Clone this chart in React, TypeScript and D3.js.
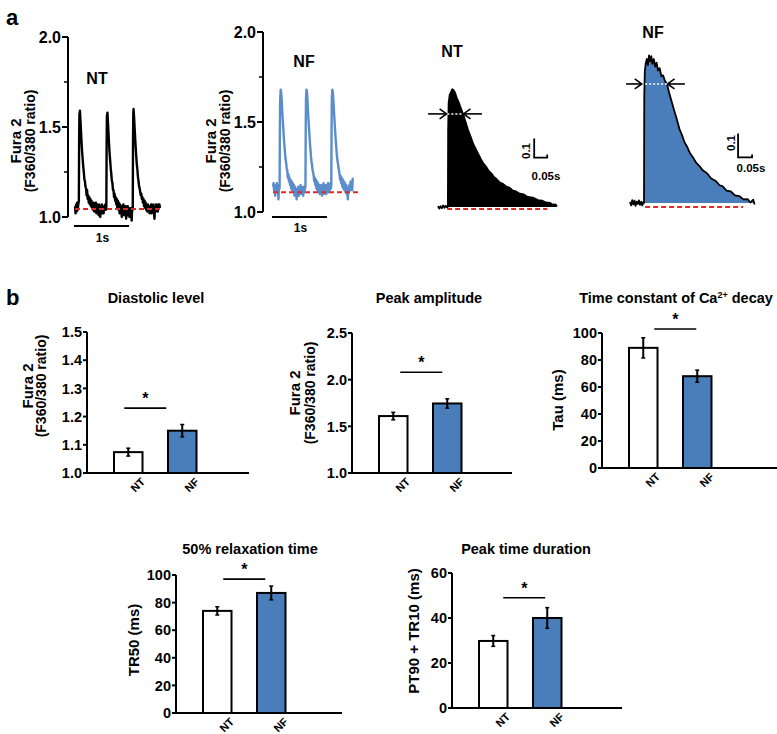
import React from "react";
import * as d3 from "d3";

const FONT = "'Liberation Sans', Arial, Helvetica, sans-serif";
const BAR_BLUE = "#4a7ebb";
const TRACE_BLUE = "#5b8dcd";
const RED = "#e02a2a";

// ---------- panel a: paced transients (time s, Fura 2 ratio) ----------
const ntTrace: [number, number][] = [
  [0.0, 1.06], [0.01, 1.02], [0.02, 1.07], [0.03, 1.03], [0.04, 1.08], [0.05, 1.04], [0.06, 1.07], [0.07, 1.09],
  [0.075, 1.42], [0.08, 1.57], [0.09, 1.59], [0.1, 1.53], [0.11, 1.47], [0.12, 1.41], [0.13, 1.36], [0.14, 1.32],
  [0.15, 1.28], [0.16, 1.25], [0.17, 1.21], [0.18, 1.2], [0.19, 1.17], [0.2, 1.16], [0.21, 1.12], [0.22, 1.15],
  [0.23, 1.1], [0.24, 1.12], [0.25, 1.08], [0.26, 1.11], [0.27, 1.07], [0.28, 1.1], [0.29, 1.06], [0.3, 1.09],
  [0.31, 1.05], [0.32, 1.08], [0.33, 1.04], [0.34, 1.08], [0.35, 1.03], [0.36, 1.07], [0.37, 1.05], [0.38, 1.08],
  [0.39, 1.02], [0.4, 1.07], [0.41, 1.04], [0.42, 1.06], [0.43, 1.01], [0.44, 1.07], [0.45, 1.05], [0.46, 1.0],
  [0.47, 1.06], [0.48, 1.04], [0.49, 1.07], [0.5, 1.02], [0.51, 1.06], [0.52, 1.02], [0.53, 1.06], [0.54, 1.04],
  [0.55, 1.07], [0.56, 1.04], [0.57, 1.06],
  [0.575, 1.4], [0.58, 1.56], [0.59, 1.58], [0.6, 1.52], [0.61, 1.46], [0.62, 1.4], [0.63, 1.35], [0.64, 1.31],
  [0.65, 1.27], [0.66, 1.24], [0.67, 1.2], [0.68, 1.19], [0.69, 1.15], [0.7, 1.15], [0.71, 1.11], [0.72, 1.13],
  [0.73, 1.09], [0.74, 1.11], [0.75, 1.07], [0.76, 1.1], [0.77, 1.05], [0.78, 1.09], [0.79, 1.04], [0.8, 1.08],
  [0.81, 1.02], [0.82, 1.07], [0.83, 1.04], [0.84, 1.06], [0.85, 1.0], [0.86, 1.06], [0.87, 1.03], [0.88, 1.07],
  [0.89, 1.01], [0.9, 1.05], [0.91, 1.03], [0.92, 1.06], [0.93, 0.99], [0.94, 1.05], [0.95, 1.03], [0.96, 1.06],
  [0.97, 1.01], [0.98, 1.05], [0.99, 1.0], [1.0, 1.04], [1.01, 1.02], [1.02, 1.05], [1.03, 0.98], [1.04, 1.05],
  [1.05, 1.04],
  [1.055, 1.42], [1.06, 1.58], [1.065, 1.6], [1.075, 1.55], [1.085, 1.49], [1.095, 1.43], [1.105, 1.38], [1.115, 1.33],
  [1.125, 1.29], [1.135, 1.26], [1.145, 1.22], [1.155, 1.2], [1.165, 1.17], [1.175, 1.16], [1.185, 1.14], [1.195, 1.12],
  [1.205, 1.13], [1.215, 1.1], [1.225, 1.11], [1.235, 1.08], [1.245, 1.1], [1.255, 1.06], [1.265, 1.09], [1.275, 1.05],
  [1.285, 1.08], [1.295, 1.04], [1.305, 1.07], [1.315, 1.03], [1.325, 1.07], [1.335, 1.04], [1.345, 1.06], [1.355, 1.02],
  [1.365, 1.06], [1.375, 1.03], [1.385, 1.07], [1.395, 1.02], [1.405, 1.06], [1.415, 1.04], [1.425, 1.07], [1.435, 1.03],
  [1.445, 0.99], [1.455, 1.05], [1.465, 1.03], [1.475, 1.07], [1.485, 1.04], [1.495, 1.06], [1.505, 1.03], [1.515, 1.07],
  [1.525, 1.05], [1.535, 1.07], [1.545, 1.05],
];

const nfTrace: [number, number][] = [
  [0.0, 1.14], [0.01, 1.16], [0.02, 1.12], [0.03, 1.15], [0.04, 1.09], [0.05, 1.14], [0.06, 1.12], [0.07, 1.16],
  [0.08, 1.11], [0.09, 1.14], [0.1, 1.07], [0.11, 1.15], [0.12, 1.13],
  [0.125, 1.45], [0.13, 1.62], [0.14, 1.68], [0.15, 1.66], [0.16, 1.61], [0.17, 1.55], [0.18, 1.5], [0.19, 1.45],
  [0.2, 1.4], [0.21, 1.36], [0.22, 1.32], [0.23, 1.29], [0.24, 1.27], [0.25, 1.24], [0.26, 1.23], [0.27, 1.19],
  [0.28, 1.21], [0.29, 1.17], [0.3, 1.19], [0.31, 1.15], [0.32, 1.18], [0.33, 1.13], [0.34, 1.17], [0.35, 1.12],
  [0.36, 1.16], [0.37, 1.11], [0.38, 1.15], [0.39, 1.09], [0.4, 1.14], [0.41, 1.1], [0.42, 1.13], [0.43, 1.07],
  [0.44, 1.13], [0.45, 1.1], [0.46, 1.14], [0.47, 1.09], [0.48, 1.13], [0.49, 1.11], [0.5, 1.15], [0.51, 1.1],
  [0.52, 1.14], [0.53, 1.11], [0.54, 1.13], [0.55, 1.09], [0.56, 1.14], [0.57, 1.11], [0.58, 1.13], [0.59, 1.14],
  [0.595, 1.46], [0.6, 1.63], [0.61, 1.68], [0.62, 1.66], [0.63, 1.6], [0.64, 1.54], [0.65, 1.49], [0.66, 1.44],
  [0.67, 1.39], [0.68, 1.35], [0.69, 1.31], [0.7, 1.28], [0.71, 1.26], [0.72, 1.23], [0.73, 1.22], [0.74, 1.2],
  [0.75, 1.17], [0.76, 1.19], [0.77, 1.15], [0.78, 1.18], [0.79, 1.13], [0.8, 1.17], [0.81, 1.12], [0.82, 1.16],
  [0.83, 1.11], [0.84, 1.15], [0.85, 1.1], [0.86, 1.14], [0.87, 1.11], [0.88, 1.15], [0.89, 1.09], [0.9, 1.14],
  [0.91, 1.11], [0.92, 1.16], [0.93, 1.1], [0.94, 1.15], [0.95, 1.11], [0.96, 1.14], [0.97, 1.1], [0.98, 1.15],
  [0.99, 1.12], [1.0, 1.16], [1.01, 1.11], [1.02, 1.15], [1.03, 1.12], [1.04, 1.16], [1.05, 1.13], [1.06, 1.15],
  [1.065, 1.47], [1.07, 1.64], [1.08, 1.68], [1.09, 1.66], [1.1, 1.61], [1.11, 1.55], [1.12, 1.5], [1.13, 1.45],
  [1.14, 1.4], [1.15, 1.36], [1.16, 1.32], [1.17, 1.29], [1.18, 1.27], [1.19, 1.25], [1.2, 1.23], [1.21, 1.21],
  [1.22, 1.18], [1.23, 1.2], [1.24, 1.16], [1.25, 1.19], [1.26, 1.14], [1.27, 1.18], [1.28, 1.13], [1.29, 1.17],
  [1.3, 1.12], [1.31, 1.16], [1.32, 1.11], [1.33, 1.15], [1.34, 1.1], [1.35, 1.14], [1.36, 1.07], [1.37, 1.13],
  [1.38, 1.11], [1.39, 1.15], [1.4, 1.12], [1.41, 1.17], [1.42, 1.13], [1.43, 1.16], [1.44, 1.12], [1.45, 1.19],
];

const ntBaseline = 1.044;
const nfBaseline = 1.11;
const traceTicks = [1.0, 1.5, 2.0];
const traceMinorTicks = [1.25, 1.75];

// single averaged transients (time s, delta ratio)
const ntTransient: [number, number][] = [
  [0.0, 0.005], [0.005, -0.008], [0.01, 0.004], [0.015, -0.006], [0.02, 0.008], [0.025, -0.004], [0.03, 0.006],
  [0.035, -0.003], [0.038, 0.002], [0.039, 0.4], [0.041, 0.55], [0.045, 0.59], [0.05, 0.605], [0.055, 0.62],
  [0.06, 0.615], [0.066, 0.6], [0.072, 0.575], [0.08, 0.55], [0.088, 0.52], [0.096, 0.49], [0.105, 0.452],
  [0.115, 0.408], [0.125, 0.372], [0.135, 0.333], [0.145, 0.306], [0.155, 0.278], [0.165, 0.252], [0.175, 0.228],
  [0.185, 0.212], [0.195, 0.19], [0.205, 0.177], [0.215, 0.158], [0.225, 0.147], [0.238, 0.128], [0.25, 0.122],
  [0.262, 0.108], [0.275, 0.102], [0.288, 0.086], [0.3, 0.082], [0.315, 0.07], [0.33, 0.066], [0.345, 0.053],
  [0.366, 0.049], [0.385, 0.036], [0.4, 0.034], [0.415, 0.024], [0.43, 0.022], [0.44, 0.013], [0.45, 0.014],
  [0.458, 0.006],
];

const nfTransient: [number, number][] = [
  [0.0, 0.004], [0.004, -0.01], [0.008, 0.012], [0.012, -0.006], [0.016, 0.01], [0.02, -0.012], [0.024, 0.006],
  [0.028, -0.004], [0.032, 0.011], [0.036, -0.008], [0.04, 0.005], [0.044, -0.01], [0.048, 0.004], [0.05, 0.0],
  [0.051, 0.45], [0.053, 0.55], [0.056, 0.58], [0.06, 0.6], [0.064, 0.575], [0.068, 0.615], [0.072, 0.59],
  [0.076, 0.612], [0.08, 0.58], [0.085, 0.6], [0.09, 0.568], [0.095, 0.585], [0.1, 0.552], [0.106, 0.562],
  [0.112, 0.528], [0.118, 0.532], [0.125, 0.508], [0.132, 0.496], [0.14, 0.458], [0.15, 0.418], [0.158, 0.384],
  [0.167, 0.35], [0.176, 0.31], [0.185, 0.285], [0.195, 0.252], [0.205, 0.232], [0.214, 0.208], [0.225, 0.19],
  [0.236, 0.168], [0.248, 0.154], [0.26, 0.136], [0.275, 0.124], [0.29, 0.102], [0.305, 0.093], [0.32, 0.074],
  [0.33, 0.07], [0.345, 0.052], [0.36, 0.048], [0.375, 0.032], [0.39, 0.029], [0.405, 0.015], [0.42, 0.016],
  [0.43, 0.002], [0.44, 0.014], [0.445, -0.006],
];

// ---------- panel b: group means ± SEM ----------
const groups = ["NT", "NF"];
const diastolicMean = [1.074, 1.15];
const diastolicErr = [0.014, 0.022];
const peakMean = [1.61, 1.745];
const peakErr = [0.04, 0.05];
const tauMean = [89, 68];
const tauErr = [7.5, 4.5];
const tr50Mean = [74, 87];
const tr50Err = [3, 5];
const durationMean = [29.8, 40];
const durationErr = [2.4, 4.6];

const ratioTicks = [1.0, 1.1, 1.2, 1.3, 1.4, 1.5];
const peakTicks = [1.0, 1.5, 2.0, 2.5];
const msTicks = [0, 20, 40, 60, 80, 100];
const durationTicks = [0, 20, 40, 60];

const bold = { fontFamily: FONT, fontWeight: 700 } as const;

type TraceProps = {
  axisX: number; yTop: number; yBottom: number; x0: number;
  data: [number, number][]; baseline: number; color: string;
  label: string; labelX: number; labelY: number;
  barY: number; barTextY: number;
};

function TracePanel(p: TraceProps) {
  const x = d3.scaleLinear().domain([0, 1.6]).range([p.x0, p.x0 + 88]);
  const y = d3.scaleLinear().domain([1, 2]).range([p.yBottom, p.yTop]);
  const line = d3.line<[number, number]>().x((d) => x(d[0])).y((d) => y(d[1]));
  const midY = 141;
  return (
    <g>
      <line x1={p.axisX} x2={p.axisX} y1={y(2)} y2={y(1)} stroke="#000" strokeWidth={2} />
      {traceTicks.map((t) => (
        <g key={t}>
          <line x1={p.axisX - 6} x2={p.axisX} y1={y(t)} y2={y(t)} stroke="#000" strokeWidth={2} />
          <text x={p.axisX - 7} y={y(t)} dy="0.36em" textAnchor="end" fontSize={16} {...bold}>{d3.format(".1f")(t)}</text>
        </g>
      ))}
      {traceMinorTicks.map((t) => (
        <line key={t} x1={p.axisX - 4} x2={p.axisX} y1={y(t)} y2={y(t)} stroke="#000" strokeWidth={1.5} />
      ))}
      <text transform={`translate(${p.axisX - 52},${midY}) rotate(-90)`} textAnchor="middle" dy="0.35em" fontSize={15} {...bold}>Fura 2</text>
      <text transform={`translate(${p.axisX - 38},${midY}) rotate(-90)`} textAnchor="middle" dy="0.35em" fontSize={14} {...bold}>(F360/380 ratio)</text>
      <path d={line(p.data) || ""} fill="none" stroke={p.color} strokeWidth={2.4} strokeLinejoin="round" />
      <line x1={x(0)} x2={x(1.6)} y1={y(p.baseline)} y2={y(p.baseline)} stroke={RED} strokeWidth={2} strokeDasharray="5,3" />
      <text x={p.labelX} y={p.labelY} textAnchor="middle" fontSize={16} {...bold}>{p.label}</text>
      <line x1={x(0) - 1} x2={x(1) - 1} y1={p.barY} y2={p.barY} stroke="#000" strokeWidth={2} />
      <text x={(x(0) + x(1)) / 2} y={p.barTextY} textAnchor="middle" fontSize={12} {...bold}>1s</text>
    </g>
  );
}

type TransientProps = {
  x0: number; pxPerS: number; base: number; pxPerUnit: number;
  data: [number, number][]; fill: string;
  label: string; labelX: number; labelY: number;
  arrowY: number; leftArrow: [number, number]; rightArrow: [number, number]; dots: [number, number];
  redFrom: number; redTo: number; redY: number;
  scaleT: number; scaleV: number;
  t01: [number, number]; t005: [number, number];
};

function Arrow({ x1, x2, y }: { x1: number; x2: number; y: number }) {
  const dir = x2 > x1 ? 1 : -1;
  return (
    <g stroke="#000" strokeWidth={1.6} fill="none">
      <line x1={x1} x2={x2} y1={y} y2={y} />
      <polyline points={`${x2 - dir * 7},${y - 5} ${x2},${y} ${x2 - dir * 7},${y + 5}`} />
    </g>
  );
}

function TransientPanel(p: TransientProps) {
  const x = d3.scaleLinear().domain([0, 1]).range([p.x0, p.x0 + p.pxPerS]);
  const y = d3.scaleLinear().domain([0, 1]).range([p.base, p.base - p.pxPerUnit]);
  const area = d3.area<[number, number]>().x((d) => x(d[0])).y0(y(0)).y1((d) => y(Math.max(0, d[1])));
  const line = d3.line<[number, number]>().x((d) => x(d[0])).y((d) => y(d[1]));
  const ay = y(p.arrowY);
  return (
    <g>
      <path d={area(p.data) || ""} fill={p.fill} />
      <path d={line(p.data) || ""} fill="none" stroke="#000" strokeWidth={1.8} strokeLinejoin="round" />
      <line x1={x(p.redFrom)} x2={x(p.redTo)} y1={y(p.redY)} y2={y(p.redY)} stroke={RED} strokeWidth={2} strokeDasharray="5,3" />
      <Arrow x1={x(p.leftArrow[0])} x2={x(p.leftArrow[1])} y={ay} />
      <Arrow x1={x(p.rightArrow[0])} x2={x(p.rightArrow[1])} y={ay} />
      <line x1={x(p.dots[0])} x2={x(p.dots[1])} y1={ay} y2={ay} stroke="#fff" strokeWidth={1.5} strokeDasharray="2,2" />
      <text x={p.labelX} y={p.labelY} textAnchor="middle" fontSize={16} {...bold}>{p.label}</text>
      <polyline
        points={`${x(p.scaleT)},${y(p.scaleV + 0.1)} ${x(p.scaleT)},${y(p.scaleV)} ${x(p.scaleT + 0.05)},${y(p.scaleV)} ${x(p.scaleT + 0.05)},${y(p.scaleV) - 3}`}
        fill="none" stroke="#000" strokeWidth={1.8}
      />
      <text transform={`translate(${p.t01[0]},${p.t01[1]}) rotate(-90)`} textAnchor="middle" dy="0.35em" fontSize={11.5} {...bold}>0.1</text>
      <text x={p.t005[0]} y={p.t005[1]} textAnchor="middle" fontSize={11.5} {...bold}>0.05s</text>
    </g>
  );
}

type BarProps = {
  title: React.ReactNode; titleX: number; titleY: number;
  yLabels: string[]; yLabelX: number[]; yLabelCy: number;
  axisX: number; axisEnd: number; yTop: number; yBottom: number;
  domain: [number, number]; ticks: number[]; fmt: string;
  means: number[]; errs: number[]; sigValue: number; sigDx: number;
};

function BarPanel(p: BarProps) {
  const y = d3.scaleLinear().domain(p.domain).range([p.yBottom, p.yTop]);
  const x = d3.scaleBand().domain(groups).range([p.axisX + 27, p.axisX + 109.5]).paddingInner(0.472);
  const bw = x.bandwidth();
  const cx = (g: string) => (x(g) || 0) + bw / 2;
  const sigMid = (cx("NT") + cx("NF")) / 2 + p.sigDx;
  const sy = y(p.sigValue);
  return (
    <g>
      <text x={p.titleX} y={p.titleY} textAnchor="middle" fontSize={14.5} {...bold}>{p.title}</text>
      {p.yLabels.map((l, i) => (
        <text key={l} transform={`translate(${p.yLabelX[i]},${p.yLabelCy}) rotate(-90)`} textAnchor="middle" dy="0.35em"
          fontSize={p.yLabels.length > 1 && i === 1 ? 14 : 15} {...bold}>{l}</text>
      ))}
      {groups.map((g, i) => (
        <g key={g}>
          <rect x={x(g)} y={y(p.means[i])} width={bw} height={y(p.domain[0]) - y(p.means[i])}
            fill={g === "NT" ? "#fff" : BAR_BLUE} stroke="#000" strokeWidth={2} />
          <line x1={cx(g)} x2={cx(g)} y1={y(p.means[i] + p.errs[i])} y2={y(p.means[i] - p.errs[i])} stroke="#000" strokeWidth={2} />
          <line x1={cx(g) - 2} x2={cx(g) + 2} y1={y(p.means[i] + p.errs[i])} y2={y(p.means[i] + p.errs[i])} stroke="#000" strokeWidth={1.5} />
          <line x1={cx(g) - 2} x2={cx(g) + 2} y1={y(p.means[i] - p.errs[i])} y2={y(p.means[i] - p.errs[i])} stroke="#000" strokeWidth={1.5} />
          <text transform={`translate(${cx(g) + 12},${p.yBottom + 4}) rotate(-45)`} textAnchor="end" dy="0.7em" fontSize={11} {...bold}>{g}</text>
        </g>
      ))}
      <line x1={p.axisX} x2={p.axisX} y1={p.yTop} y2={p.yBottom} stroke="#000" strokeWidth={2} />
      <line x1={p.axisX - 1} x2={p.axisEnd} y1={p.yBottom} y2={p.yBottom} stroke="#000" strokeWidth={2} />
      {p.ticks.map((t) => (
        <g key={t}>
          <line x1={p.axisX - 4} x2={p.axisX} y1={y(t)} y2={y(t)} stroke="#000" strokeWidth={2} />
          <text x={p.axisX - 5} y={y(t)} dy="0.36em" textAnchor="end" fontSize={14.5} {...bold}>{d3.format(p.fmt)(t)}</text>
        </g>
      ))}
      <line x1={sigMid - 21} x2={sigMid + 21} y1={sy} y2={sy} stroke="#000" strokeWidth={1.6} />
      <text x={sigMid} y={sy - 4} textAnchor="middle" fontSize={16} {...bold}>*</text>
    </g>
  );
}

export default function App() {
  return (
    <div style={{ position: "absolute", left: 0, top: 0, background: "#fff" }}>
      <svg width={777} height={734} style={{ display: "block" }}>
        <rect width={777} height={734} fill="#fff" />
        <text x={6} y={25} fontSize={22} {...bold}>a</text>
        <text x={6} y={305} fontSize={22} {...bold}>b</text>

        <TracePanel axisX={68} yTop={37} yBottom={217} x0={75} data={ntTrace} baseline={ntBaseline} color="#000"
          label="NT" labelX={97} labelY={84} barY={226} barTextY={242} />
        <TracePanel axisX={263} yTop={32} yBottom={212} x0={273} data={nfTrace} baseline={nfBaseline} color={TRACE_BLUE}
          label="NF" labelX={304} labelY={67} barY={217} barTextY={232} />

        <TransientPanel x0={438} pxPerS={260} base={207} pxPerUnit={190} data={ntTransient} fill="#000"
          label="NT" labelX={452} labelY={57} arrowY={0.49} leftArrow={[-0.038, 0.033]} rightArrow={[0.169, 0.098]}
          dots={[0.036, 0.095]} redFrom={0.035} redTo={0.42} redY={-0.011}
          scaleT={0.37} scaleV={0.26} t01={[526, 151]} t005={[546, 180]} />
        <TransientPanel x0={630} pxPerS={280} base={203} pxPerUnit={240} data={nfTransient} fill={BAR_BLUE}
          label="NF" labelX={653} labelY={38} arrowY={0.496} leftArrow={[-0.014, 0.042]} rightArrow={[0.196, 0.134]}
          dots={[0.054, 0.134]} redFrom={0.054} redTo={0.404} redY={-0.017}
          scaleT={0.386} scaleV={0.19} t01={[731, 143]} t005={[751, 172]} />

        <BarPanel title="Diastolic level" titleX={156} titleY={303} yLabels={["Fura 2", "(F360/380 ratio)"]}
          yLabelX={[28, 41]} yLabelCy={386} axisX={87} axisEnd={249} yTop={332} yBottom={473}
          domain={[1.0, 1.5]} ticks={ratioTicks} fmt=".1f" means={diastolicMean} errs={diastolicErr} sigValue={1.23} sigDx={-10} />
        <BarPanel title="Peak amplitude" titleX={429} titleY={303} yLabels={["Fura 2", "(F360/380 ratio)"]}
          yLabelX={[295, 310]} yLabelCy={393} axisX={352} axisEnd={512} yTop={333} yBottom={473}
          domain={[1.0, 2.5]} ticks={peakTicks} fmt=".1f" means={peakMean} errs={peakErr} sigValue={2.08} sigDx={1} />
        <BarPanel
          title={<>Time constant of Ca<tspan fontSize={9} dy={-5}>2+</tspan><tspan dy={5}> decay</tspan></>}
          titleX={676} titleY={303} yLabels={["Tau (ms)"]} yLabelX={[558]} yLabelCy={400}
          axisX={602} axisEnd={777} yTop={333} yBottom={468}
          domain={[0, 100]} ticks={msTicks} fmt="d" means={tauMean} errs={tauErr} sigValue={103} sigDx={5} />
        <BarPanel title="50% relaxation time" titleX={250} titleY={554} yLabels={["TR50 (ms)"]} yLabelX={[134]} yLabelCy={640}
          axisX={176} axisEnd={342} yTop={575} yBottom={713}
          domain={[0, 100]} ticks={msTicks} fmt="d" means={tr50Mean} errs={tr50Err} sigValue={97} sigDx={0} />
        <BarPanel title="Peak time duration" titleX={526} titleY={554} yLabels={["PT90 + TR10 (ms)"]} yLabelX={[414]} yLabelCy={631}
          axisX={452} axisEnd={622} yTop={573} yBottom={708}
          domain={[0, 60]} ticks={durationTicks} fmt="d" means={durationMean} errs={durationErr} sigValue={49} sigDx={4} />
      </svg>
    </div>
  );
}
